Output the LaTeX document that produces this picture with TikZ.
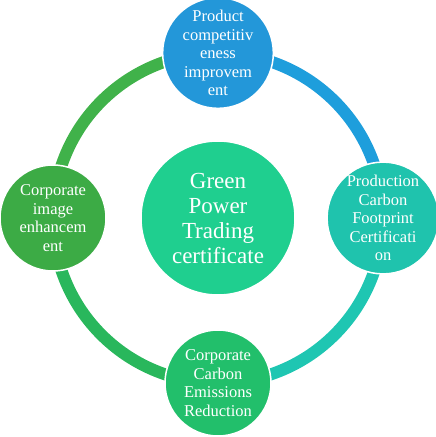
\documentclass[tikz,border=0pt]{standalone}
\usepackage{fontspec}
\setmainfont{Liberation Serif}
\definecolor{ctop}{HTML}{2397D9}
\definecolor{cright}{HTML}{1FC3AD}
\definecolor{cbottom}{HTML}{22BF6B}
\definecolor{cleft}{HTML}{3CAB45}
\definecolor{ccenter}{HTML}{1FCF8F}
\definecolor{atr}{HTML}{1E9EDC}
\definecolor{arb}{HTML}{1FC6B2}
\definecolor{abl}{HTML}{29B75C}
\definecolor{alt}{HTML}{40B24A}
\begin{document}
\begin{tikzpicture}[x=1pt,y=1pt,
  ringarc/.style={line width=12pt},
  outer/.style={circle, minimum size=106pt, inner sep=0pt, draw=white, line width=1.5pt,
    text=white, align=center, font=\fontsize{16.5}{18.5}\selectfont},
  hub/.style={circle, minimum size=154pt, inner sep=0pt, draw=white, line width=1.5pt,
    text=white, align=center, font=\fontsize{23}{25}\selectfont}]
\useasboundingbox (0,0) rectangle (436,437);
\coordinate (c) at (218,219);
\draw[ringarc, atr] (c) ++(90:165) arc[start angle=90, end angle=0, radius=165];
\draw[ringarc, arb] (c) ++(0:165) arc[start angle=0, end angle=-90, radius=165];
\draw[ringarc, abl] (c) ++(-90:165) arc[start angle=-90, end angle=-180, radius=165];
\draw[ringarc, alt] (c) ++(180:165) arc[start angle=180, end angle=90, radius=165];
\node[hub, fill=ccenter] (hub) at (c) {Green\\Power\\Trading\\certificate};
\node[outer, fill=ctop] (top) at (218,384) {Product\\competitiv\\eness\\improvem\\ent};
\node[outer, fill=cright] (right) at (383,219) {Production\\Carbon\\Footprint\\Certificati\\on};
\node[outer, fill=cbottom] (bottom) at (218,54) {Corporate\\Carbon\\Emissions\\Reduction};
\node[outer, fill=cleft] (left) at (53,219) {Corporate\\image\\enhancem\\ent};
\end{tikzpicture}
\end{document}
